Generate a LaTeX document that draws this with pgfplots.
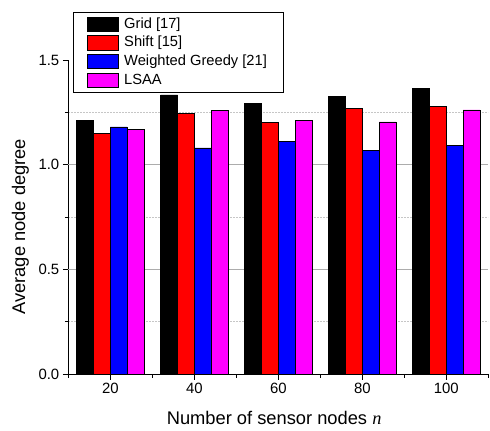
\documentclass[border=0pt]{standalone}
\usepackage{pgfplots}
\pgfplotsset{compat=1.18}
\usepackage{fontspec}
\setmainfont{Liberation Sans}
\newfontfamily\timesfont{Liberation Serif}
\definecolor{mred}{RGB}{255,0,0}
\definecolor{mblue}{RGB}{0,0,255}
\definecolor{mmag}{RGB}{255,0,255}
\begin{document}
\begin{tikzpicture}
\useasboundingbox (-68.3bp,-57bp) rectangle (421.7bp,374bp);
\begin{axis}[
 at={(0,0)}, anchor=south west,
 scale only axis, width=420bp, height=314bp,
 xmin=10, xmax=110, ymin=0, ymax=1.5,
 enlargelimits=false,
 axis x line*=bottom, axis y line*=left,
 axis line style={line width=0.9bp},
 tick align=outside,
 major tick length=5.5bp, minor tick length=3.5bp,
 every tick/.style={black, line width=0.9bp},
 xtick={20,40,60,80,100}, minor xtick={10,30,50,70,90,110},
 ytick={0,0.5,1,1.5}, minor ytick={0.25,0.75,1.25},
 yticklabel style={/pgf/number format/.cd, fixed, fixed zerofill, precision=1},
 /pgf/number format/assume math mode=true,
 ticklabel style={font=\fontsize{14.9bp}{17bp}\selectfont},
 yminorgrids,
 minor grid style={gray!45, dash pattern=on 1.5bp off 1.5bp, line width=0.8bp},
 extra y ticks={0.5,1.0}, extra y tick labels={},
 extra y tick style={grid=major, major grid style={gray!65, line width=0.8bp}, major tick length=0pt},
 xlabel={Number of sensor nodes {\timesfont\itshape n}},
 ylabel={Average node degree},
 label style={font=\fontsize{18.3bp}{21bp}\selectfont},
 xlabel style={at={(axis description cs:0.490,-0.1624)}, anchor=base},
 ylabel style={at={(axis description cs:-0.1138,0.469)}, anchor=center},
 legend style={at={(axis description cs:0.0105,1.1538)}, anchor=north west,
   draw=black, line width=0.8bp, fill=white,
   inner xsep=13.8bp, inner ysep=3.6bp, row sep=1.6bp, column sep=3bp,
   font=\fontsize{14.7bp}{17bp}\selectfont,
   nodes={inner xsep=3bp, inner ysep=1.5bp, text height=11bp, text depth=3bp}},
 legend cell align=left,
 legend image code/.code={\draw[#1, line width=0.6bp] (0bp,-7.1bp) rectangle (30.7bp,7.1bp);},
]
\addplot[ybar, bar width=4, bar shift=-6, fill=black, draw=black, line width=0.6bp]
 coordinates {(20,1.21) (40,1.333) (60,1.293) (80,1.327) (100,1.364)};
\addlegendentry{Grid [17]}
\addplot[ybar, bar width=4, bar shift=-2, fill=mred, draw=black, line width=0.6bp]
 coordinates {(20,1.15) (40,1.243) (60,1.20) (80,1.268) (100,1.278)};
\addlegendentry{Shift [15]}
\addplot[ybar, bar width=4, bar shift=2, fill=mblue, draw=black, line width=0.6bp]
 coordinates {(20,1.18) (40,1.08) (60,1.11) (80,1.07) (100,1.092)};
\addlegendentry{Weighted Greedy [21]}
\addplot[ybar, bar width=4, bar shift=6, fill=mmag, draw=black, line width=0.6bp]
 coordinates {(20,1.17) (40,1.26) (60,1.213) (80,1.204) (100,1.262)};
\addlegendentry{LSAA}
\end{axis}
\end{tikzpicture}
\end{document}
